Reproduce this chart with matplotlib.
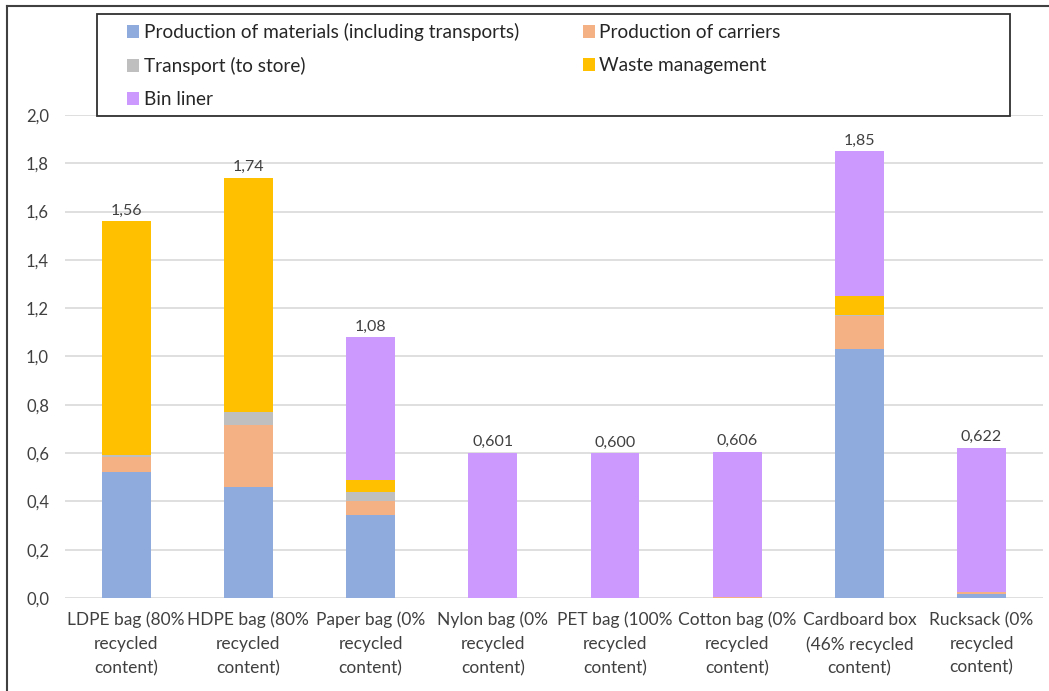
import matplotlib.pyplot as plt
from matplotlib.patches import Rectangle
import numpy as np

plt.rcParams['font.family'] = ['Lato', 'DejaVu Sans']

categories = ['LDPE bag (80%\nrecycled\ncontent)', 'HDPE bag (80%\nrecycled\ncontent)',
              'Paper bag (0%\nrecycled\ncontent)', 'Nylon bag (0%\nrecycled\ncontent)',
              'PET bag (100%\nrecycled\ncontent)', 'Cotton bag (0%\nrecycled\ncontent)',
              'Cardboard box\n(46% recycled\ncontent)', 'Rucksack (0%\nrecycled\ncontent)']

materials = [0.52, 0.46, 0.344, 0.001, 0.0, 0.001, 1.03, 0.015]
carriers = [0.065, 0.255, 0.056, 0.0, 0.0, 0.005, 0.137, 0.008]
transport = [0.008, 0.055, 0.04, 0.0, 0.0, 0.0, 0.005, 0.0]
waste = [0.967, 0.97, 0.05, 0.0, 0.0, 0.0, 0.078, 0.0]
bin_liner = [0.0, 0.0, 0.59, 0.60, 0.60, 0.60, 0.60, 0.60]
total_labels = ['1,56', '1,74', '1,08', '0,601', '0,600', '0,606', '1,85', '0,622']

series = [
    ('Production of materials (including transports)', materials, '#8FAADC'),
    ('Production of carriers', carriers, '#F4B183'),
    ('Transport (to store)', transport, '#BFBFBF'),
    ('Waste management', waste, '#FFC000'),
    ('Bin liner', bin_liner, '#CC99FF'),
]

W, H = 1049, 691
x = np.arange(len(categories))
bar_width = 0.4

fig = plt.figure(figsize=(W / 100, H / 100), dpi=100)
ax = fig.add_axes([0.062, 0.1346, 0.932, 0.699])

bottom = np.zeros(len(categories))
handles = {}
for name, vals, color in series:
    vals = np.array(vals)
    h = ax.bar(x, vals, bar_width, bottom=bottom, color=color, label=name, zorder=3)
    handles[name] = h
    bottom += vals

for xi, top, lab in zip(x, bottom, total_labels):
    ax.text(xi, top + 0.015, lab, ha='center', va='bottom', fontsize=11.5, color='#404040')

ax.set_xlim(-0.5, len(categories) - 0.5)
ax.set_ylim(0, 2.0)
yticks = np.arange(0, 2.01, 0.2)
ax.set_yticks(yticks)
ax.set_yticklabels([f'{v:.1f}'.replace('.', ',') for v in yticks])
ax.set_xticks(x)
ax.set_xticklabels(categories, linespacing=1.6)
ax.tick_params(length=0, labelsize=12.5, colors='#404040')
ax.tick_params(axis='y', pad=11.5, labelsize=12)
ax.tick_params(axis='x', pad=10)
ax.grid(axis='y', color='#d9d9d9', linewidth=1.2, zorder=0)
for s in ax.spines.values():
    s.set_visible(False)

order = ['Production of materials (including transports)', 'Transport (to store)', 'Bin liner',
         'Production of carriers', 'Waste management']
leg = ax.legend([handles[n] for n in order], order, ncol=2, loc='upper left',
                bbox_to_anchor=(127 / W, 1 - 23 / H), bbox_transform=fig.transFigure,
                fontsize=13.7, frameon=False, borderpad=0, borderaxespad=0,
                handlelength=0.63, handleheight=0.63, handletextpad=0.25,
                labelspacing=0.84, columnspacing=3.35)
for t in leg.get_texts():
    t.set_color('#262626')

# legend frame
fig.add_artist(Rectangle((97 / W, 1 - 116 / H), (1010 - 97) / W, (116 - 14) / H,
                         transform=fig.transFigure, fill=False, edgecolor='#303030', lw=1.3))

# outer frame lines
fig.add_artist(plt.Line2D([0.007, 0.007], [0, 0.991], transform=fig.transFigure, color='#404040', lw=1.5))
fig.add_artist(plt.Line2D([0.007, 1.0], [0.991, 0.991], transform=fig.transFigure, color='#404040', lw=1.5))

fig.savefig('out.png', dpi=100)
